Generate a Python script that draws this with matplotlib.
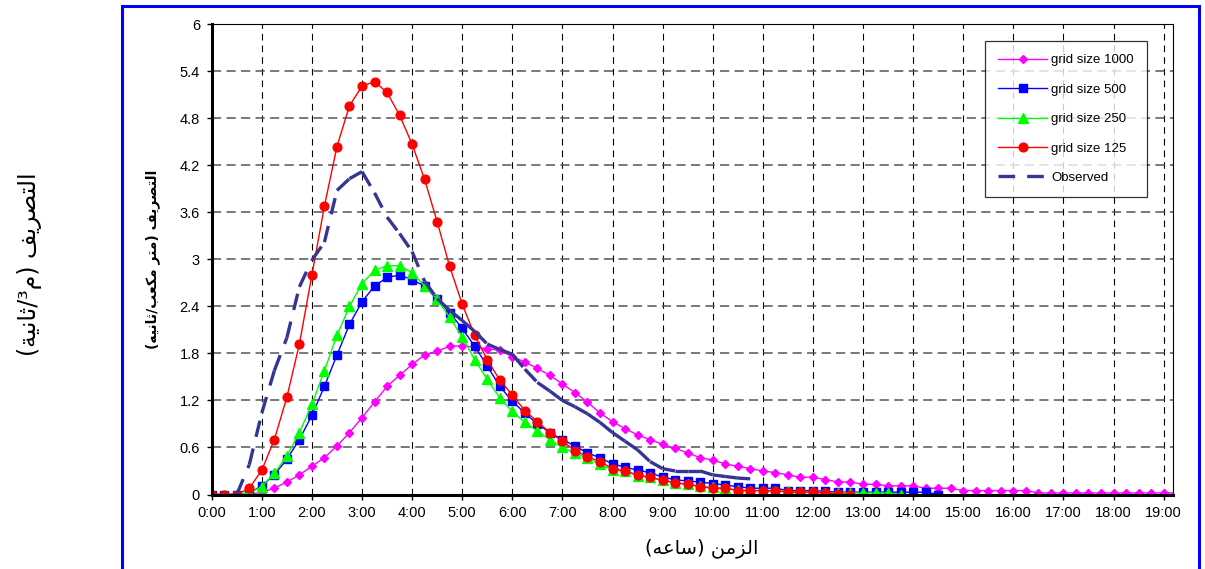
import matplotlib
matplotlib.use("Agg")
import matplotlib.pyplot as plt
from matplotlib.patches import Rectangle

# time axis: one value every 15 minutes (hours)
step = 0.25

q_1000 = [0, 0, 0, 0, 0.03, 0.08, 0.16, 0.25, 0.36, 0.47, 0.62, 0.79, 0.98, 1.18, 1.38, 1.52,
          1.66, 1.78, 1.83, 1.89, 1.90, 1.88, 1.86, 1.84, 1.76, 1.69, 1.61, 1.52, 1.41, 1.30,
          1.18, 1.04, 0.93, 0.84, 0.76, 0.70, 0.64, 0.59, 0.53, 0.47, 0.44, 0.39, 0.36, 0.33,
          0.30, 0.28, 0.25, 0.22, 0.22, 0.19, 0.16, 0.16, 0.13, 0.13, 0.11, 0.11, 0.11, 0.08,
          0.08, 0.08, 0.05, 0.05, 0.05, 0.05, 0.05, 0.05, 0.02, 0.02, 0.02, 0.02, 0.02, 0.02,
          0.02, 0.02, 0.02, 0.02, 0.02, 0.02]
q_500 = [0, 0, 0, 0.02, 0.11, 0.25, 0.45, 0.70, 1.01, 1.38, 1.78, 2.17, 2.46, 2.66, 2.77, 2.80,
         2.74, 2.66, 2.49, 2.32, 2.12, 1.89, 1.64, 1.38, 1.19, 1.04, 0.90, 0.79, 0.70, 0.62,
         0.53, 0.47, 0.39, 0.35, 0.31, 0.28, 0.22, 0.19, 0.17, 0.16, 0.14, 0.12, 0.10, 0.08,
         0.08, 0.08, 0.05, 0.05, 0.05, 0.04, 0.03, 0.03, 0.03, 0.03, 0.03, 0.03, 0.03, 0.03, 0]
q_250 = [0, 0, 0, 0.02, 0.10, 0.27, 0.49, 0.79, 1.15, 1.58, 2.03, 2.40, 2.69, 2.86, 2.92, 2.92,
         2.83, 2.66, 2.49, 2.26, 2.01, 1.72, 1.47, 1.23, 1.06, 0.92, 0.81, 0.70, 0.60, 0.53,
         0.46, 0.39, 0.31, 0.30, 0.24, 0.22, 0.18, 0.15, 0.13, 0.11, 0.09, 0.08, 0.06, 0.05,
         0.05, 0.04, 0.04, 0.03, 0.03, 0.02, 0.02, 0.02, 0.02, 0.02, 0.02, 0]
q_125 = [0, 0, 0, 0.08, 0.31, 0.70, 1.24, 1.92, 2.80, 3.68, 4.44, 4.96, 5.21, 5.27, 5.13, 4.84,
         4.47, 4.02, 3.48, 2.91, 2.43, 2.03, 1.72, 1.46, 1.27, 1.07, 0.93, 0.79, 0.68, 0.56,
         0.48, 0.42, 0.33, 0.30, 0.25, 0.22, 0.18, 0.15, 0.13, 0.10, 0.08, 0.08, 0.05, 0.05,
         0.05, 0.05, 0.03, 0.03, 0.03, 0.02, 0.01, 0]
q_obs = [0, 0, 0, 0.38, 1.04, 1.58, 2.00, 2.65, 2.99, 3.22, 3.88, 4.03, 4.12, 3.85, 3.54, 3.33,
         3.10, 2.72, 2.50, 2.35, 2.22, 2.08, 1.92, 1.85, 1.79, 1.60, 1.43, 1.32, 1.20, 1.12,
         1.03, 0.92, 0.79, 0.68, 0.57, 0.42, 0.33, 0.30, 0.30, 0.30, 0.25, 0.23, 0.21, 0.20]

series_labels = ["grid size 1000", "grid size 500", "grid size 250", "grid size 125", "Observed"]
x_ticks = list(range(20))
x_ticklabels = ["%d:00" % h for h in x_ticks]
y_ticks = [0, 0.6, 1.2, 1.8, 2.4, 3, 3.6, 4.2, 4.8, 5.4, 6]
y_ticklabels = ["0", "0.6", "1.2", "1.8", "2.4", "3", "3.6", "4.2", "4.8", "5.4", "6"]

x_title = "الزمن (ساعه)"
y_title_inner = "التصريف (متر مكعب/ثانيه)"
y_title_outer = "التصريف (م³/ثانية)"

# arabic contextual forms (presentation forms B): isolated codepoint, dual joining?
FORMS = {
    'ا': (0xFE8D, False), 'ب': (0xFE8F, True), 'ة': (0xFE93, False), 'ت': (0xFE95, True),
    'ث': (0xFE99, True), 'ر': (0xFEAD, False), 'ز': (0xFEAF, False), 'س': (0xFEB1, True),
    'ص': (0xFEB9, True), 'ع': (0xFEC9, True), 'ف': (0xFED1, True), 'ك': (0xFED9, True),
    'ل': (0xFEDD, True), 'م': (0xFEE1, True), 'ن': (0xFEE5, True), 'ه': (0xFEE9, True),
    'ي': (0xFEF1, True),
}


def arabe(s):
    out = []
    for i, ch in enumerate(s):
        if ch not in FORMS:
            out.append(ch)
            continue
        base, dual = FORMS[ch]
        prev = s[i - 1] if i > 0 else ''
        nxt = s[i + 1] if i + 1 < len(s) else ''
        jp = prev in FORMS and FORMS[prev][1]
        jn = dual and nxt in FORMS
        if jp and jn:
            cp = base + 3
        elif jp:
            cp = base + 1
        elif jn:
            cp = base + 2
        else:
            cp = base
        out.append(chr(cp))
    espejo = {'(': ')', ')': '('}
    return ''.join(espejo.get(c, c) for c in reversed(out))


def tiempos(vals):
    return [i * step for i in range(len(vals))]


plt.rcParams['font.family'] = ['Liberation Sans', 'DejaVu Sans']

W, H = 1205, 569
fig = plt.figure(figsize=(W / 100, H / 100), dpi=100)
ax = fig.add_axes([211.7 / W, 1 - 494.5 / H, (1173 - 211.7) / W, (494.5 - 24.3) / H])

ax.plot(tiempos(q_1000), q_1000, color='#ff00ff', lw=1.0, marker='D', ms=4.4, label=series_labels[0])
ax.plot(tiempos(q_500), q_500, color='#0000ff', lw=1.0, marker='s', ms=5.8, label=series_labels[1])
ax.plot(tiempos(q_250), q_250, color='#00ff00', lw=1.0, marker='^', ms=6.8, label=series_labels[2])
ax.plot(tiempos(q_125), q_125, color='#ff0000', lw=1.0, marker='o', ms=6.3, label=series_labels[3])

# observed: excel restarts the dash at each point, so draw segment by segment
t_obs = tiempos(q_obs)
for i in range(len(q_obs) - 1):
    ax.plot(t_obs[i:i + 2], q_obs[i:i + 2], color='#353595', lw=2.4,
            linestyle=(0, (5, 3.6)), solid_capstyle='butt', dash_capstyle='butt',
            label=series_labels[4] if i == 0 else None)

ax.set_xlim(0, (1173 - 211.7) / 50.1)
ax.set_ylim(0, 6)
ax.set_xticks(x_ticks)
ax.set_xticklabels(x_ticklabels, fontsize=10.5)
ax.set_yticks(y_ticks)
ax.set_yticklabels(y_ticklabels, fontsize=10.5)
ax.tick_params(direction='out', length=3.5, width=1, pad=5, colors='black')

ax.xaxis.grid(True, color='black', lw=0.8, linestyle=(0, (6, 4.5)))
ax.yaxis.grid(True, color='#555555', lw=1.1, linestyle=(0, (6, 3.5)))
ax.set_axisbelow(True)

for lado in ['top', 'right']:
    ax.spines[lado].set_linewidth(0.8)
for lado in ['left', 'bottom']:
    ax.spines[lado].set_linewidth(2.2)

leg = ax.legend(loc='upper left', bbox_to_anchor=(985 / W, 1 - 41 / H), bbox_transform=fig.transFigure,
                borderaxespad=0, fontsize=9.5, frameon=True, fancybox=False, shadow=False,
                handlelength=3.7, handletextpad=0.3, labelspacing=1.3, borderpad=1.0)
leg.get_frame().set_edgecolor('black')
leg.get_frame().set_linewidth(0.9)

fig.text(702 / W, 1 - 548 / H, arabe(x_title), ha='center', va='center', fontsize=14,
         family='DejaVu Sans')
fig.text(153 / W, 1 - 259 / H, arabe(y_title_inner), ha='center', va='center', rotation=90,
         fontsize=10, fontweight='bold', family='DejaVu Sans')
fig.text(30 / W, 1 - 264 / H, arabe(y_title_outer), ha='center', va='center', rotation=90,
         fontsize=17, family='DejaVu Sans')

# blue outer frame of the chart
fig.patches.append(Rectangle((122 / W, -0.05), (1199 - 122) / W, 1.05 - 5.5 / H, transform=fig.transFigure,
                             fill=False, edgecolor='#0000ff', lw=2.2))

fig.savefig('out.png', dpi=100)
